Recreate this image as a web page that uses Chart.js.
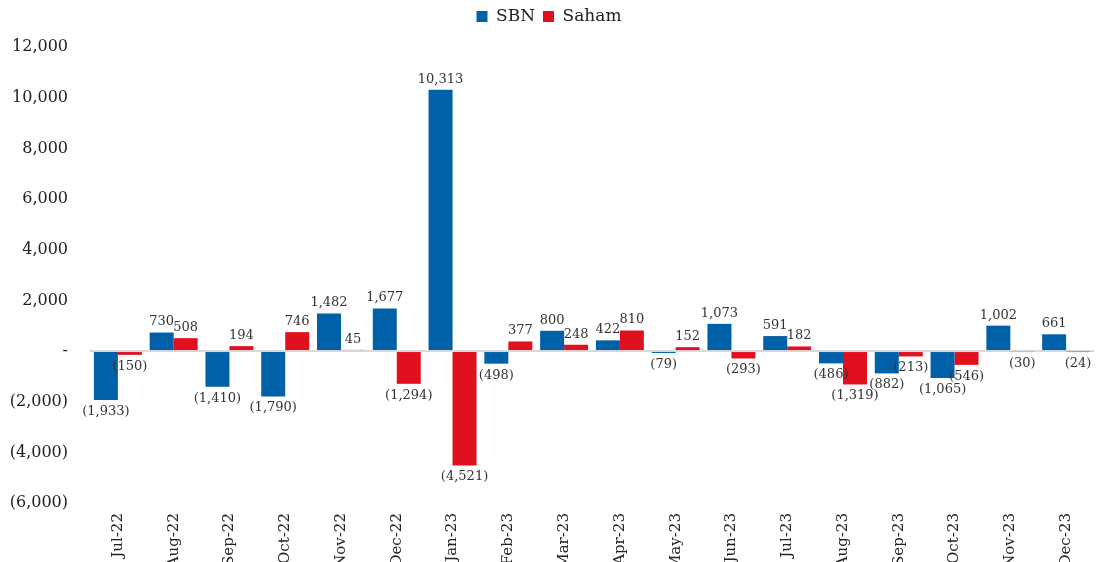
<!DOCTYPE html>
<html>
<head>
<meta charset="utf-8">
<script src="https://cdn.jsdelivr.net/npm/chart.js@4.4.0/dist/chart.umd.min.js"></script>
<style>
  html, body { margin: 0; padding: 0; background: #fff; }
  #wrap { width: 1106px; height: 562px; }
</style>
</head>
<body>
<div id="wrap"><canvas id="flowChart"></canvas></div>
<script>
const months = ['Jul-22', 'Aug-22', 'Sep-22', 'Oct-22', 'Nov-22', 'Dec-22', 'Jan-23', 'Feb-23', 'Mar-23',
    'Apr-23', 'May-23', 'Jun-23', 'Jul-23', 'Aug-23', 'Sep-23', 'Oct-23', 'Nov-23', 'Dec-23'];
const sbn = [-1933, 730, -1410, -1790, 1482, 1677, 10313, -498, 800, 422, -79, 1073, 591, -486, -882, -1065, 1002, 661];
const saham = [-150, 508, 194, 746, 45, -1294, -4521, 377, 248, 810, 152, -293, 182, -1319, -213, -546, -30, -24];

const FONT = '"DejaVu Serif", "Liberation Serif", serif';

function fmt(v) {
    if (v === 0) return '-';
    const s = Math.abs(v).toLocaleString('en-US');
    return v < 0 ? '(' + s + ')' : s;
}

// extra space under the legend
const legendGap = {
    id: 'legendGap',
    beforeInit(chart) {
        const origFit = chart.legend.fit;
        chart.legend.fit = function () {
            origFit.call(this);
            this.height += 12;
        };
    }
};

// simple value labels, above positive bars and below negative ones
const barLabels = {
    id: 'barLabels',
    afterDatasetsDraw(chart) {
        const ctx = chart.ctx;
        ctx.save();
        ctx.font = '13px ' + FONT;
        ctx.fillStyle = '#333';
        ctx.textAlign = 'center';
        chart.data.datasets.forEach((ds, i) => {
            chart.getDatasetMeta(i).data.forEach((bar, j) => {
                const v = ds.data[j];
                if (v >= 0) {
                    ctx.textBaseline = 'bottom';
                    ctx.fillText(fmt(v), bar.x, bar.y - 4);
                } else {
                    ctx.textBaseline = 'top';
                    ctx.fillText(fmt(v), bar.x, bar.y + 5);
                }
            });
        });
        ctx.restore();
    }
};

new Chart(document.getElementById('flowChart'), {
    type: 'bar',
    data: {
        labels: months,
        datasets: [
            { label: 'SBN', data: sbn, backgroundColor: '#0060a8' },
            { label: 'Saham', data: saham, backgroundColor: '#e0101f' }
        ]
    },
    options: {
        responsive: true,
        maintainAspectRatio: false,
        animation: false,
        layout: { padding: { left: 4, right: 12, top: 0, bottom: -10 } },
        datasets: { bar: { categoryPercentage: 0.86, barPercentage: 1.0 } },
        plugins: {
            tooltip: { enabled: false },
            legend: {
                position: 'top',
                labels: {
                    boxWidth: 11,
                    boxHeight: 11,
                    padding: 8,
                    color: '#222',
                    font: { family: FONT, size: 17 }
                }
            }
        },
        scales: {
            x: {
                grid: { display: false },
                border: { display: false },
                ticks: {
                    minRotation: 90,
                    maxRotation: 90,
                    padding: 2,
                    color: '#222',
                    font: { family: FONT, size: 15 }
                }
            },
            y: {
                min: -6000,
                max: 12000,
                border: { display: false },
                afterFit: s => { s.width = 86; },
                grid: {
                    drawTicks: false,
                    lineWidth: 2,
                    color: c => c.tick && c.tick.value === 0 ? '#d9d9d9' : 'rgba(0,0,0,0)'
                },
                ticks: {
                    stepSize: 2000,
                    padding: 22,
                    color: '#222',
                    font: { family: FONT, size: 16 },
                    callback: v => fmt(v)
                }
            }
        }
    },
    plugins: [legendGap, barLabels]
});
</script>
</body>
</html>
